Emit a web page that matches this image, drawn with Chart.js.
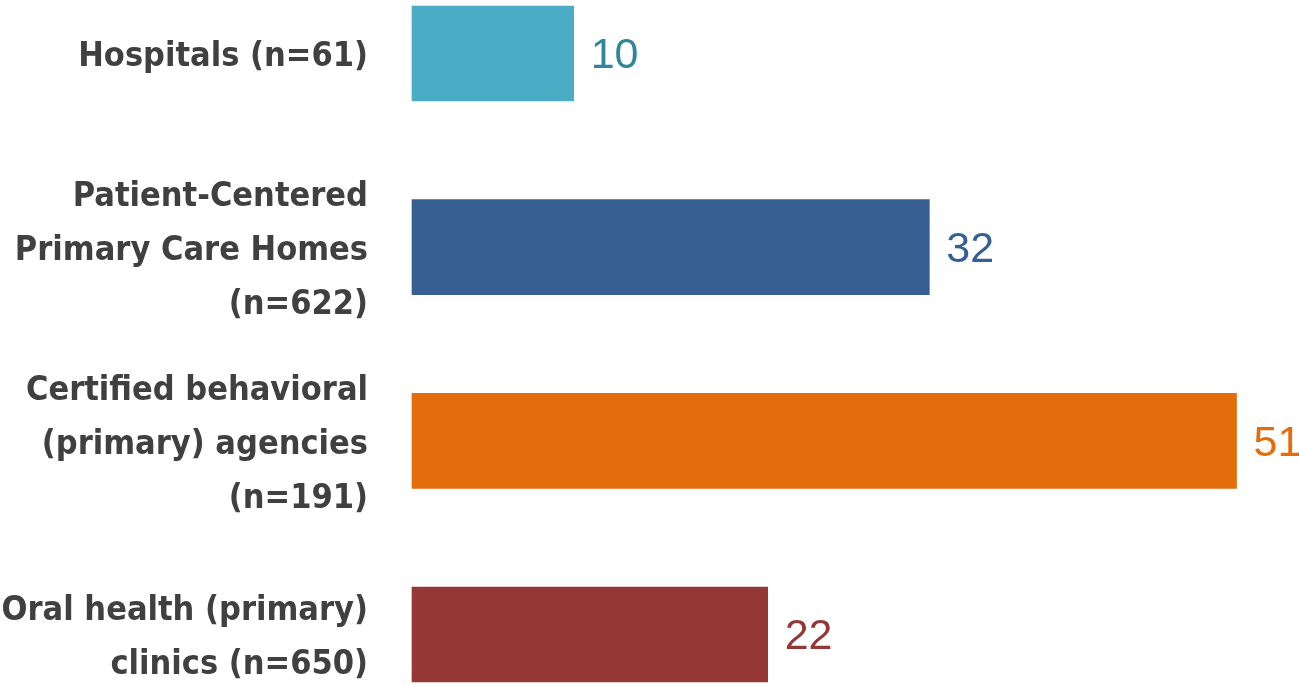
<!DOCTYPE html>
<html>
<head>
<meta charset="utf-8">
<script src="https://cdn.jsdelivr.net/npm/chart.js@4/dist/chart.umd.min.js"></script>
<style>
  html, body { margin: 0; padding: 0; background: #ffffff; }
  #wrap { width: 1299px; height: 686px; position: relative; }
</style>
</head>
<body>
<div id="wrap"><canvas id="chart"></canvas></div>
<script>
// chart data
let categories = [
    ["Hospitals (n=61)"],
    ["Patient-Centered", "Primary Care Homes", "(n=622)"],
    ["Certified behavioral", "(primary) agencies", "(n=191)"],
    ["Oral health (primary)", "clinics (n=650)"]
]
let values = [10, 32, 51, 22]
let barColors = ["#4BACC6", "#376092", "#E46C0A", "#953735"]
let labelColors = ["#31859C", "#376092", "#E46C0A", "#953735"]

// draws the number next to the end of each bar
const valueLabels = {
    id: "valueLabels",
    afterDatasetsDraw(chart) {
        let ctx = chart.ctx
        let meta = chart.getDatasetMeta(0)
        ctx.save()
        ctx.font = "43px 'Liberation Sans', Arial, sans-serif"
        ctx.textAlign = "left"
        ctx.textBaseline = "middle"
        meta.data.forEach((bar, i) => {
            ctx.fillStyle = labelColors[i]
            ctx.fillText(values[i], bar.x + 17, bar.y + 3)
        })
        ctx.restore()
    }
}

let ctx = document.getElementById("chart")
let chart = new Chart(ctx, {
    type: 'bar',
    data: {
        labels: categories,
        datasets: [{
            data: values,
            backgroundColor: barColors,
            barThickness: 95,
            clip: false
        }]
    },
    options: {
        indexAxis: 'y',
        responsive: true,
        maintainAspectRatio: false,
        animation: false,
        layout: {
            padding: { top: 53.5, bottom: 51.5, left: 0, right: 14 }
        },
        scales: {
            x: {
                display: false,
                min: 0,
                max: 54
            },
            y: {
                offset: false,
                grid: { display: false, drawTicks: false },
                border: { display: false },
                ticks: {
                    padding: 44,
                    labelOffset: 4,
                    color: "#404040",
                    font: {
                        family: "'DejaVu Sans Condensed', 'DejaVu Sans', sans-serif",
                        size: 34,
                        weight: 'bold',
                        lineHeight: 1.59
                    }
                },
                afterFit: function(scale) {
                    // fixed label column so bars start at the same x as the original
                    scale.width = 412
                    scale.paddingTop = 0
                    scale.paddingBottom = 0
                }
            }
        },
        plugins: {
            legend: { display: false },
            tooltip: { enabled: false }
        }
    },
    plugins: [valueLabels]
})
</script>
</body>
</html>
